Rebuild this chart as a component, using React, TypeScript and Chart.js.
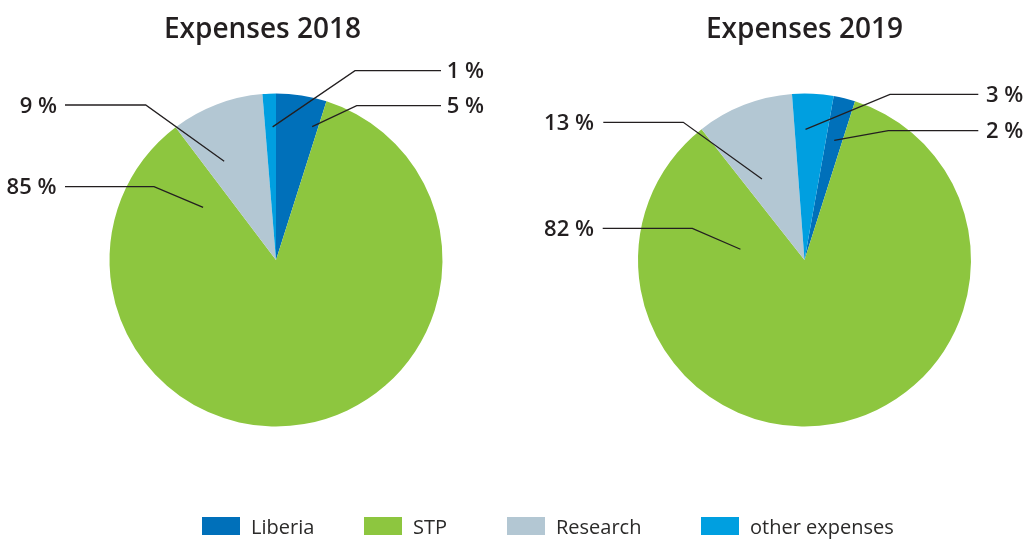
import React, { useEffect, useRef } from "react";
import { Chart, registerables } from "chart.js";

Chart.register(...registerables);

// ---- data ----
const categories = ["Liberia", "STP", "Research", "other expenses"];
const colors = ["#0070BA", "#8DC63F", "#B3C7D3", "#009FE0"];

// slice shares as drawn in the picture
const values2018 = [4.9, 84.8, 9.0, 1.3];
const values2019 = [2.1, 84.4, 9.4, 4.0];

// printed percentage labels
const labels2018 = ["5 %", "85 %", "9 %", "1 %"];
const labels2019 = ["2 %", "82 %", "13 %", "3 %"];

const title2018 = "Expenses 2018";
const title2019 = "Expenses 2019";

// ---- layout of leader lines (relative to pie centre) ----
type Leader = { t: number; rf: number; ex: number; ey: number; lx: number; tx: number };
const leaders2018: Leader[] = [
  { t: 0.86, rf: 0.83, ex: 80.7, ey: -154.3, lx: 165, tx: 208 },
  { t: 0.944, rf: 0.54, ex: -122, ey: -73.3, lx: -211, tx: -219.5 },
  { t: 0.29, rf: 0.67, ex: -130.3, ey: -155, lx: -211, tx: -219 },
  { t: 0.69, rf: 0.8, ex: 79, ey: -189.3, lx: 165, tx: 208 },
];
const leaders2019: Leader[] = [
  { t: 0.51, rf: 0.74, ex: 83.8, ey: -129.3, lx: 173.8, tx: 218.8 },
  { t: 0.861, rf: 0.39, ex: -112.2, ey: -31.7, lx: -201.8, tx: -210.5 },
  { t: 0.31, rf: 0.55, ex: -121.2, ey: -137.7, lx: -201.2, tx: -210.5 },
  { t: 0.33, rf: 0.785, ex: 85.5, ey: -165.7, lx: 173.8, tx: 218.8 },
];

const INK = "#231F20";
const FONT = "'Open Sans', 'Noto Sans', sans-serif";

const leaderPlugin = {
  id: "leaders",
  afterDatasetsDraw(chart: any, _args: any, opts: any) {
    const meta = chart.getDatasetMeta(0);
    const ctx = chart.ctx as CanvasRenderingContext2D;
    const first = meta.data[0];
    if (!first) return;
    const cx = first.x;
    const cy = first.y;
    ctx.save();
    // title
    ctx.fillStyle = INK;
    ctx.font = `600 28px ${FONT}`;
    ctx.textAlign = "center";
    ctx.textBaseline = "alphabetic";
    ctx.fillText(opts.title, cx + opts.titleDx, opts.titleY);
    // leaders
    ctx.strokeStyle = INK;
    ctx.lineWidth = 1.3;
    ctx.font = `600 22px ${FONT}`;
    ctx.textAlign = "right";
    meta.data.forEach((arc: any, i: number) => {
      const L: Leader = opts.leaders[i];
      const { startAngle, endAngle, outerRadius } = arc.getProps(
        ["startAngle", "endAngle", "outerRadius"],
        true
      );
      const a = startAngle + L.t * (endAngle - startAngle);
      const ax = cx + Math.cos(a) * L.rf * outerRadius;
      const ay = cy + Math.sin(a) * L.rf * outerRadius;
      ctx.beginPath();
      ctx.moveTo(ax, ay);
      ctx.lineTo(cx + L.ex, cy + L.ey);
      ctx.lineTo(cx + L.lx, cy + L.ey);
      ctx.stroke();
      ctx.fillText(opts.labels[i], cx + L.tx, cy + L.ey + 7.5);
    });
    ctx.restore();
  },
};

function Pie(props: {
  values: number[];
  labels: string[];
  leaders: Leader[];
  title: string;
  titleDx: number;
  rotation: number;
  left: number;
  width: number;
  padding: { left: number; right: number; top: number; bottom: number };
}) {
  const ref = useRef<HTMLCanvasElement>(null);
  useEffect(() => {
    if (!ref.current) return;
    const chart = new Chart(ref.current, {
      type: "pie",
      data: {
        labels: categories,
        datasets: [
          {
            data: props.values,
            backgroundColor: colors,
            borderWidth: 0,
            hoverBorderWidth: 0,
            hoverOffset: 0,
            offset: 0,
          },
        ],
      },
      options: {
        responsive: false,
        animation: false,
        events: [],
        rotation: props.rotation,
        layout: { padding: props.padding },
        plugins: {
          legend: { display: false },
          tooltip: { enabled: false },
          title: { display: false },
          leaders: {
            labels: props.labels,
            leaders: props.leaders,
            title: props.title,
            titleDx: props.titleDx,
            titleY: 38,
          },
        } as any,
      },
      plugins: [leaderPlugin],
    });
    return () => chart.destroy();
  }, []);
  return (
    <canvas
      ref={ref}
      width={props.width}
      height={539}
      style={{ position: "absolute", left: props.left, top: 0, width: props.width, height: 539 }}
    />
  );
}

const legendLefts = [202, 364, 507, 701];

export default function App() {
  return (
    <div
      style={{
        position: "fixed",
        left: 0,
        top: 0,
        width: 1027,
        height: 539,
        background: "#fff",
        overflow: "hidden",
      }}
    >
      <Pie
        values={values2018}
        labels={labels2018}
        leaders={leaders2018}
        title={title2018}
        titleDx={-13.5}
        rotation={0}
        left={0}
        width={513}
        padding={{ left: 109.5, right: 70.5, top: 93.5, bottom: 112.5 }}
      />
      <Pie
        values={values2019}
        labels={labels2019}
        leaders={leaders2019}
        title={title2019}
        titleDx={0}
        rotation={10.1}
        left={513}
        width={514}
        padding={{ left: 125, right: 56, top: 93.5, bottom: 112.5 }}
      />
      {categories.map((c, i) => (
        <div
          key={c}
          style={{ position: "absolute", left: legendLefts[i], top: 517, height: 20, whiteSpace: "nowrap" }}
        >
          <span
            style={{
              position: "absolute",
              left: 0,
              top: 0,
              width: 38,
              height: 18,
              background: colors[i],
            }}
          />
          <span
            style={{
              position: "absolute",
              left: 49,
              top: 0,
              font: `400 20px/20px ${FONT}`,
              color: "#2b2a29",
            }}
          >
            {c}
          </span>
        </div>
      ))}
    </div>
  );
}
